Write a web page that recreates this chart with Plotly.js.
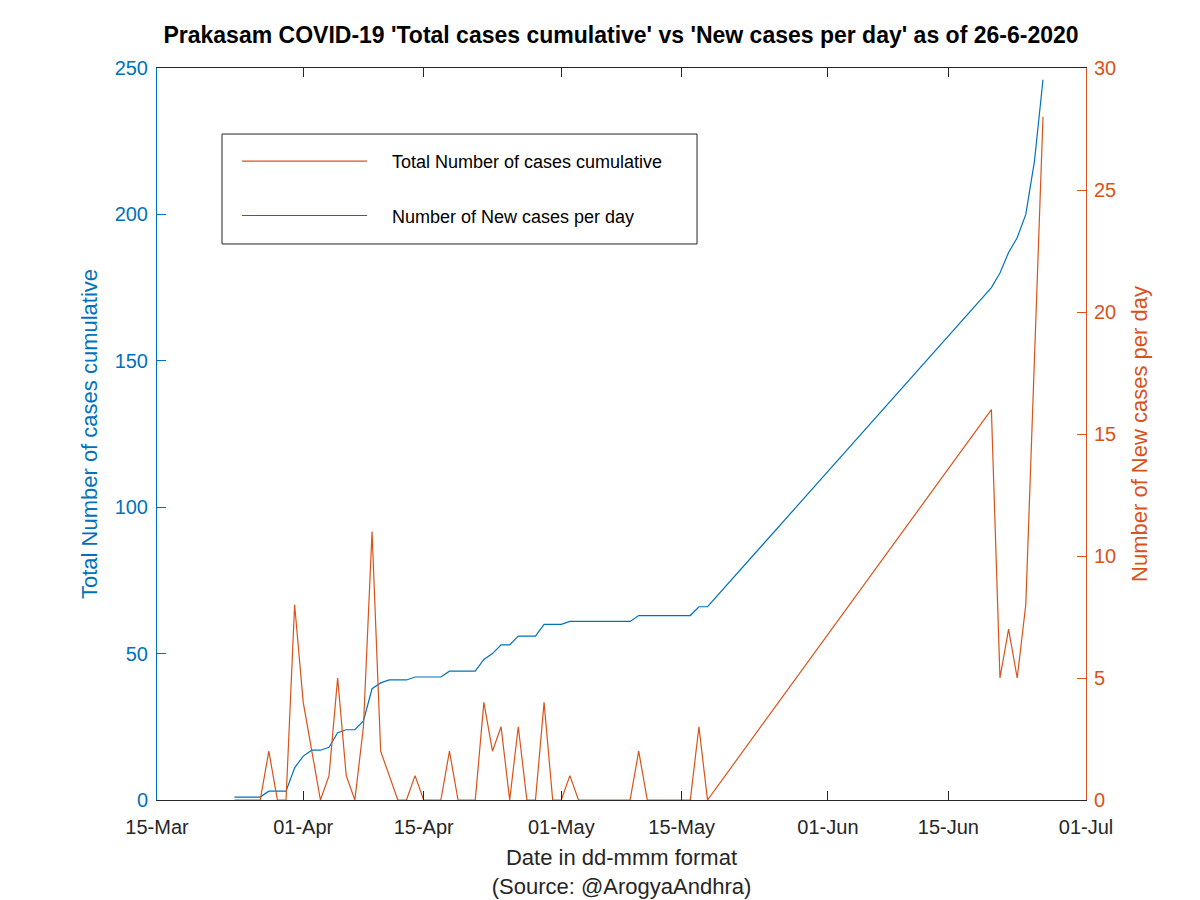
<!DOCTYPE html>
<html>
<head>
<meta charset="utf-8">
<script src="https://cdn.plot.ly/plotly-3.0.1.min.js"></script>
<style>html,body{margin:0;padding:0;background:#fff;}#chart{width:1200px;height:900px;}</style>
</head>
<body>
<div id="chart"></div>
<script>
// Dates (missing days between 18-May and 20-Jun are not in the source data)
var dates = [
  '2020-03-24','2020-03-25','2020-03-26','2020-03-27','2020-03-28','2020-03-29','2020-03-30','2020-03-31',
  '2020-04-01','2020-04-02','2020-04-03','2020-04-04','2020-04-05','2020-04-06','2020-04-07','2020-04-08',
  '2020-04-09','2020-04-10','2020-04-11','2020-04-12','2020-04-13','2020-04-14','2020-04-15','2020-04-16',
  '2020-04-17','2020-04-18','2020-04-19','2020-04-20','2020-04-21','2020-04-22','2020-04-23','2020-04-24',
  '2020-04-25','2020-04-26','2020-04-27','2020-04-28','2020-04-29','2020-04-30',
  '2020-05-01','2020-05-02','2020-05-03','2020-05-04','2020-05-05','2020-05-06','2020-05-07','2020-05-08',
  '2020-05-09','2020-05-10','2020-05-11','2020-05-12','2020-05-13','2020-05-14','2020-05-15','2020-05-16',
  '2020-05-17','2020-05-18',
  '2020-06-20','2020-06-21','2020-06-22','2020-06-23','2020-06-24','2020-06-25','2020-06-26'
];
var totalCases = [
  1,1,1,1,3,3,3,11,
  15,17,17,18,23,24,24,27,
  38,40,41,41,41,42,42,42,
  42,44,44,44,44,48,50,53,
  53,56,56,56,60,60,
  60,61,61,61,61,61,61,61,
  61,63,63,63,63,63,63,63,
  66,66,
  175,180,187,192,200,218,246
];
var newCases = [
  0,0,0,0,2,0,0,8,
  4,2,0,1,5,1,0,3,
  11,2,1,0,0,1,0,0,
  0,2,0,0,0,4,2,3,
  0,3,0,0,4,0,
  0,1,0,0,0,0,0,0,
  0,2,0,0,0,0,0,0,
  3,0,
  16,5,7,5,8,18,28
];
var tickDates = ['2020-03-15','2020-04-01','2020-04-15','2020-05-01','2020-05-15','2020-06-01','2020-06-15','2020-07-01'];
var tickLabels = ['15-Mar','01-Apr','15-Apr','01-May','15-May','01-Jun','15-Jun','01-Jul'];
var leftTicks = [0,50,100,150,200,250];
var rightTicks = [0,5,10,15,20,25,30];

var BLUE = '#0072BD', ORANGE = '#D95319', DARK = '#262626';
var FONT = 'Liberation Sans, Arial, Helvetica, sans-serif';
var PAD = '\u00a0\u00a0\u00a0\u00a0';

var traces = [
  {
    x: dates, y: totalCases, type: 'scatter', mode: 'lines',
    name: PAD + 'Number of New cases per day', legendrank: 2, legendgroup: 'b',
    line: {color: BLUE, width: 1.2}, yaxis: 'y', hoverinfo: 'x+y'
  },
  {
    x: dates, y: newCases, type: 'scatter', mode: 'lines',
    name: PAD + 'Total Number of cases cumulative', legendrank: 1, legendgroup: 'a',
    line: {color: ORANGE, width: 1.2}, yaxis: 'y2', hoverinfo: 'x+y'
  }
];

var layout = {
  width: 1200, height: 900,
  paper_bgcolor: '#fff', plot_bgcolor: '#fff',
  margin: {l: 157, r: 114, t: 68, b: 100},
  font: {family: FONT, size: 20, color: DARK},
  title: {
    text: "<b>Prakasam COVID-19 'Total cases cumulative' vs 'New cases per day' as of 26-6-2020</b>",
    font: {family: FONT, size: 23, color: '#000'},
    x: 0.5175, xanchor: 'center', y: 0.961, yanchor: 'middle'
  },
  xaxis: {
    type: 'date', range: ['2020-03-15', '2020-07-01'],
    tickmode: 'array', tickvals: tickDates, ticktext: tickLabels,
    showgrid: false, zeroline: false,
    showline: true, linecolor: DARK, linewidth: 1, mirror: 'ticks',
    ticks: 'inside', ticklen: 9, tickcolor: DARK, tickwidth: 1,
    ticklabelstandoff: 9,
    tickfont: {family: FONT, size: 20, color: DARK},
    title: {text: 'Date in dd-mmm format<br>(Source: @ArogyaAndhra)', font: {family: FONT, size: 22, color: DARK}, standoff: 12}
  },
  yaxis: {
    range: [0, 250], tickmode: 'array', tickvals: leftTicks,
    showgrid: false, zeroline: false,
    showline: true, linecolor: BLUE, linewidth: 1,
    ticks: 'inside', ticklen: 9, tickcolor: BLUE,
    ticklabelstandoff: 4,
    tickfont: {family: FONT, size: 20, color: BLUE},
    title: {text: 'Total Number of cases cumulative', font: {family: FONT, size: 22, color: BLUE}, standoff: 10}
  },
  yaxis2: {
    range: [0, 30], tickmode: 'array', tickvals: rightTicks,
    overlaying: 'y', side: 'right',
    showgrid: false, zeroline: false,
    showline: true, linecolor: ORANGE, linewidth: 1,
    ticks: 'inside', ticklen: 9, tickcolor: ORANGE,
    ticklabelstandoff: 3,
    tickfont: {family: FONT, size: 20, color: ORANGE},
    title: {text: 'Number of New cases per day', font: {family: FONT, size: 22, color: ORANGE}, standoff: 16}
  },
  showlegend: true,
  legend: {
    x: 0.0861, y: 0.8977, xanchor: 'left', yanchor: 'top',
    bgcolor: 'rgba(0,0,0,0)', borderwidth: 0,
    font: {family: FONT, size: 18, color: '#000'},
    itemwidth: 125, traceorder: 'grouped', tracegroupgap: 28
  },
  shapes: [
    {type: 'rect', xref: 'paper', yref: 'paper', x0: 0.07, x1: 0.5813, y0: 0.7596, y1: 0.9098,
     line: {color: DARK, width: 1}, fillcolor: '#fff', layer: 'below'}
  ]
};

Plotly.newPlot('chart', traces, layout, {displayModeBar: false, staticPlot: true});
</script>
</body>
</html>
